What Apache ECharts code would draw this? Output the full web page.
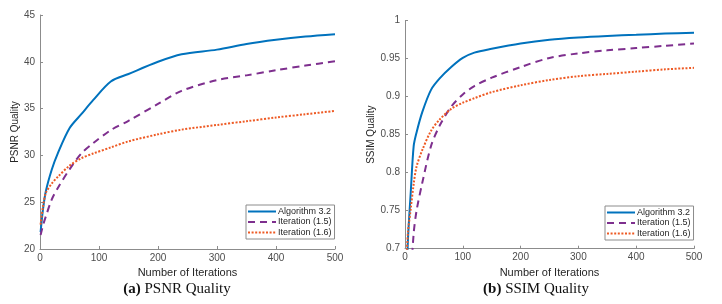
<!DOCTYPE html>
<html>
<head>
<meta charset="utf-8">
<script src="https://cdn.jsdelivr.net/npm/echarts@6/dist/echarts.min.js"></script>
<style>
html,body{margin:0;padding:0;background:#fff;}
#c{width:722px;height:304px;}
</style>
</head>
<body>
<div id="c"></div>
<script>
// ---- data ----
const seriesNames = ['Algorithm 3.2', 'Iteration (1.5)', 'Iteration (1.6)'];

const psnrIter = [1, 5, 10, 20, 30, 50, 70, 90, 120, 150, 200, 240, 300, 350, 400, 450, 500];
const psnrAlg32 = [21.8, 24.2, 26.2, 28.5, 30.2, 32.9, 34.4, 35.9, 37.9, 38.7, 40.0, 40.8, 41.3, 41.9, 42.35, 42.7, 42.95];
const psnrIt15  = [21.5, 22.5, 23.5, 25.3, 26.5, 28.5, 30.2, 31.3, 32.7, 33.7, 35.5, 36.9, 38.05, 38.55, 39.1, 39.6, 40.05];
const psnrIt16  = [22.6, 24.5, 26.0, 27.0, 27.7, 28.9, 29.7, 30.2, 30.85, 31.5, 32.25, 32.75, 33.25, 33.65, 34.05, 34.4, 34.75];

const ssimIter = [1, 5, 10, 15, 20, 30, 45, 60, 80, 100, 120, 150, 200, 250, 300, 350, 400, 450, 500];
const ssimAlg32 = [0.60, 0.71, 0.775, 0.835, 0.853, 0.88, 0.909, 0.924, 0.939, 0.951, 0.958, 0.963, 0.970, 0.975, 0.978, 0.980, 0.9815, 0.983, 0.984];
const ssimIt15  = [0.55, 0.60, 0.66, 0.72, 0.75, 0.787, 0.835, 0.862, 0.887, 0.903, 0.914, 0.925, 0.939, 0.951, 0.957, 0.961, 0.964, 0.967, 0.970];
const ssimIt16  = [0.66, 0.72, 0.753, 0.785, 0.808, 0.83, 0.855, 0.870, 0.884, 0.892, 0.898, 0.906, 0.915, 0.922, 0.927, 0.930, 0.933, 0.936, 0.938];

const xTicks = [0, 100, 200, 300, 400, 500];
const psnrTicks = [20, 25, 30, 35, 40, 45];
const ssimTicks = [0.7, 0.75, 0.8, 0.85, 0.9, 0.95, 1];

// ---- styles ----
const colors = ['#0072BD', '#7E2F8E', '#EE5A24'];
const lineTypes = ['solid', [7, 5], [2, 1.6]];
const axisGray = '#4d4d4d';
const sans = 'Liberation Sans, Arial, sans-serif';
const serif = 'Liberation Serif, DejaVu Serif, serif';

function zip(xs, ys){ return xs.map((x,i)=>[x, ys[i]]); }

function xAxis(gridIndex){
  return {
    type: 'value', gridIndex, min: xTicks[0], max: xTicks[xTicks.length-1], interval: 100,
    name: 'Number of Iterations', nameLocation: 'middle', nameGap: 17,
    nameTextStyle: {color: '#262626', fontSize: 11, fontFamily: sans},
    axisLine: {show: true, lineStyle: {color: '#8c8c8c', width: 1}},
    axisTick: {show: true, inside: true, length: 3, lineStyle: {color: '#8c8c8c'}},
    axisLabel: {color: axisGray, fontSize: 10, fontFamily: sans, margin: 4},
    splitLine: {show: false}
  };
}
function yAxis(gridIndex, ticks, step, name, gap, decimals){
  return {
    type: 'value', gridIndex, min: ticks[0], max: ticks[ticks.length-1], interval: step,
    name, nameLocation: 'middle', nameGap: gap,
    nameTextStyle: {color: '#262626', fontSize: 10, fontFamily: sans},
    axisLine: {show: true, lineStyle: {color: '#8c8c8c', width: 1}},
    axisTick: {show: true, inside: true, length: 3, lineStyle: {color: '#8c8c8c'}},
    axisLabel: {color: axisGray, fontSize: 10, fontFamily: sans, margin: 5,
      formatter: v => decimals ? String(+v.toFixed(2)) : String(v)},
    splitLine: {show: false}
  };
}

function mkSeries(name, idx, data, axisIndex){
  return {
    name, type: 'line', xAxisIndex: axisIndex, yAxisIndex: axisIndex,
    data, smooth: 0.3, showSymbol: false, symbol: 'none', clip: true,
    lineStyle: {color: colors[idx], width: 2, type: lineTypes[idx]},
    itemStyle: {color: colors[idx]},
    animation: false
  };
}

function legend(left, top){
  return {
    data: seriesNames, orient: 'vertical', left, top,
    backgroundColor: '#fff', borderColor: '#8c8c8c', borderWidth: 1, borderRadius: 0,
    padding: [2, 3, 2, 1], itemGap: 1.5, itemWidth: 28, itemHeight: 10,
    itemStyle: {opacity: 0, borderWidth: 0},
    textStyle: {color: '#262626', fontSize: 9, fontFamily: sans, padding: [0,0,0,-3]},
    selectedMode: false
  };
}

const chart = echarts.init(document.getElementById('c'), null, {renderer: 'canvas'});
chart.setOption({
  backgroundColor: '#fff',
  animation: false,
  grid: [
    {left: 40, top: 15, width: 295, height: 234, containLabel: false},
    {left: 405, top: 20.7, width: 289, height: 228, containLabel: false}
  ],
  xAxis: [xAxis(0), xAxis(1)],
  yAxis: [
    yAxis(0, psnrTicks, 5, 'PSNR Quality', 20, false),
    yAxis(1, ssimTicks, 0.05, 'SSIM Quality', 27, true)
  ],
  legend: [legend(246, 205), legend(605, 206)],
  series: [
    mkSeries(seriesNames[0], 0, zip(psnrIter, psnrAlg32), 0),
    mkSeries(seriesNames[1], 1, zip(psnrIter, psnrIt15), 0),
    mkSeries(seriesNames[2], 2, zip(psnrIter, psnrIt16), 0),
    mkSeries(seriesNames[0], 0, zip(ssimIter, ssimAlg32), 1),
    mkSeries(seriesNames[1], 1, zip(ssimIter, ssimIt15), 1),
    mkSeries(seriesNames[2], 2, zip(ssimIter, ssimIt16), 1)
  ],
  graphic: [
    {type: 'text', x: 177, y: 289, style: {
      text: '{b|(a)} PSNR Quality', align: 'center', verticalAlign: 'middle',
      rich: {b: {fontWeight: 'bold', fontFamily: serif, fontSize: 15, fill: '#111'}},
      fontFamily: serif, fontSize: 15, fill: '#111'}},
    {type: 'text', x: 536, y: 289, style: {
      text: '{b|(b)} SSIM Quality', align: 'center', verticalAlign: 'middle',
      rich: {b: {fontWeight: 'bold', fontFamily: serif, fontSize: 15, fill: '#111'}},
      fontFamily: serif, fontSize: 15, fill: '#111'}}
  ]
});
</script>
</body>
</html>
